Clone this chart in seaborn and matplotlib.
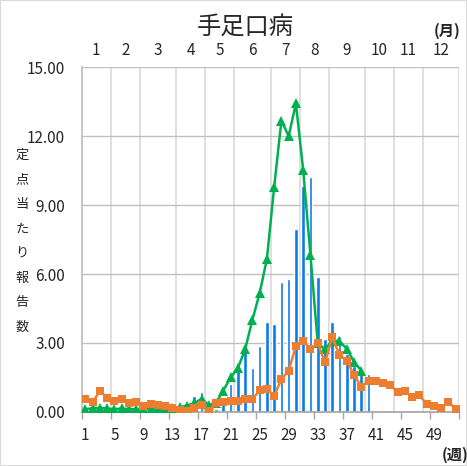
import numpy as np
import pandas as pd
import matplotlib
matplotlib.use("Agg")
import matplotlib.pyplot as plt
import seaborn as sns
from matplotlib.patches import Rectangle

# 表示用テキスト
title = "手足口病"
ylabel_chars = "定点当たり報告数"
months = ["1", "2", "3", "4", "5", "6", "7", "8", "9", "10", "11", "12"]
month_weeks = [4, 4, 5, 4, 4, 5, 4, 4, 5, 4, 4, 5]
weeks = list(range(1, 53))
week_labels = weeks[::4]
y_ticks = [0, 3, 6, 9, 12, 15]

# 今年 (棒グラフ, 1〜40週)
this_year = [0.08, 0.10, 0.12, 0.18, 0.10, 0.10, 0.08, 0.08, 0.06, 0.06,
             0.05, 0.06, 0.08, 0.10, 0.20, 0.70, 0.86, 0.10, 0.12, 0.42,
             1.22, 1.78, 2.73, 1.90, 2.87, 3.91, 3.81, 5.65, 5.80, 7.97,
             9.83, 10.23, 5.86, 3.19, 3.91, 3.30, 2.50, 2.00, 1.75, 1.66]

# 前年 (緑, 1〜39週)
last_year = [0.12, 0.16, 0.18, 0.15, 0.12, 0.15, 0.12, 0.12, 0.15, 0.12,
             0.15, 0.15, 0.15, 0.20, 0.28, 0.38, 0.57, 0.30, 0.40, 0.93,
             1.50, 1.90, 2.72, 4.00, 5.16, 6.65, 9.77, 12.67, 12.00, 13.42,
             10.52, 6.83, 3.00, 2.72, 3.10, 3.08, 2.75, 2.18, 1.80]

# 平均 (オレンジ, 1〜52週)
average = [0.55, 0.42, 0.92, 0.61, 0.46, 0.55, 0.41, 0.45, 0.26, 0.36,
           0.30, 0.28, 0.16, 0.09, 0.04, 0.18, 0.30, 0.02, 0.40, 0.45,
           0.49, 0.49, 0.55, 0.55, 0.94, 0.99, 0.70, 1.42, 1.80, 2.87,
           3.09, 2.73, 2.99, 2.16, 3.25, 2.48, 2.23, 1.61, 1.10, 1.36,
           1.36, 1.28, 1.19, 0.85, 0.91, 0.67, 0.72, 0.36, 0.28, 0.17,
           0.44, 0.13]

BLUE = "#0A7CE6"
GREEN = "#00B050"
ORANGE = "#ED7D31"


def main():
    sns.set_theme(style="white")
    plt.rcParams["font.family"] = ["Noto Sans CJK JP", "DejaVu Sans"]

    fig = plt.figure(figsize=(4.67, 4.66), dpi=100)
    ax = fig.add_axes([0.175, 0.116, 0.8085, 0.74])

    # 月の境界 (週単位)
    bounds = 0.5 + np.cumsum([0] + month_weeks)
    centers = (bounds[:-1] + bounds[1:]) / 2
    for b in bounds[1:]:
        ax.axvline(b, color="#D9D9D9", lw=1.2, zorder=0)

    bar_df = pd.DataFrame({"week": weeks[:len(this_year)], "value": this_year})
    sns.barplot(data=bar_df, x="week", y="value", native_scale=True,
                width=0.5, color=BLUE, saturation=1, errorbar=None, ax=ax,
                zorder=2)

    sns.lineplot(x=weeks[:len(last_year)], y=last_year, color=GREEN,
                 marker="^", markersize=7, markeredgewidth=0, linewidth=1.8,
                 ax=ax, zorder=3)
    sns.lineplot(x=weeks, y=average, color=ORANGE, marker="s",
                 markersize=5.5, markeredgewidth=0, linewidth=1.8,
                 ax=ax, zorder=4)

    ax.set_xlim(0.5, 52.5)
    ax.set_ylim(0, 15)
    ax.set_xlabel("")
    ax.set_ylabel("")

    ax.set_yticks(y_ticks, [f"{v:.2f}" for v in y_ticks])
    ax.yaxis.grid(True, color="#BFBFBF", lw=1)
    ax.set_axisbelow(True)
    ax.tick_params(axis="y", length=0, pad=12, labelsize=11)

    # 目盛り線は4週ごとの境界、ラベルは週の中央
    ax.set_xticks(bounds[0] + np.arange(0, 53, 4), [""] * 14)
    ax.set_xticks(week_labels, [str(w) for w in week_labels], minor=True)
    ax.tick_params(axis="x", which="major", length=5, color="#A6A6A6",
                   width=1, direction="out", bottom=True)
    ax.tick_params(axis="x", which="minor", length=0, pad=11, labelsize=11)

    for side in ["top", "right"]:
        ax.spines[side].set_visible(False)
    ax.spines["left"].set_color("#BFBFBF")
    ax.spines["bottom"].set_color("#A6A6A6")

    sec = ax.secondary_xaxis("top")
    sec.set_xticks(centers, months)
    sec.tick_params(length=0, pad=6, labelsize=11)
    sec.spines["top"].set_visible(False)

    fig.text(245 / 467, 1 - 27 / 466, title, ha="center", va="center",
             fontsize=17.5)
    fig.text(447 / 467, 1 - 31 / 466, "(月)", ha="center", va="center",
             fontsize=11, fontweight="bold")
    fig.text(455 / 467, 1 - 455 / 466, "(週)", ha="center", va="center",
             fontsize=11, fontweight="bold")
    for i, ch in enumerate(ylabel_chars):
        fig.text(22 / 467, 1 - (155 + i * 24.6) / 466, ch, ha="center",
                 va="center", fontsize=9.5)

    fig.patches.append(Rectangle((0, 0), 1, 1, transform=fig.transFigure,
                                 fill=False, edgecolor="#D9D9D9", lw=1.5))

    fig.savefig("out.png", dpi=100)


if __name__ == "__main__":
    main()
